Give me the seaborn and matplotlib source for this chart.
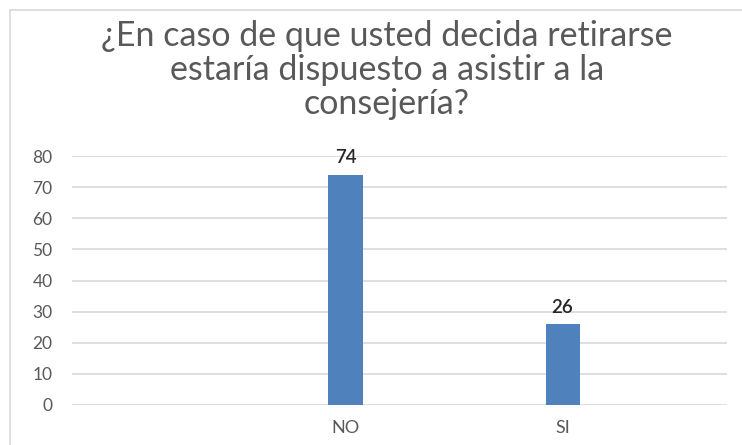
import matplotlib
matplotlib.use("Agg")
import matplotlib.pyplot as plt
from matplotlib.lines import Line2D
import seaborn as sns
import pandas as pd

title = "¿En caso de que usted decida retirarse\nestaría dispuesto a asistir a la\nconsejería?"
categories = ["NO", "SI"]
values = [74, 26]
y_ticks = [0, 10, 20, 30, 40, 50, 60, 70, 80]

sns.set_theme(style="white")
plt.rcParams["font.family"] = ["Lato", "DejaVu Sans"]

df = pd.DataFrame({"respuesta": categories, "total": values})

fig = plt.figure(figsize=(7.42, 4.45), dpi=100)
ax = fig.add_axes([0.097, 0.0899, 0.883, 0.5595])

sns.barplot(data=df, x="respuesta", y="total", color="#4F81BD",
            saturation=1, width=0.157, ax=ax, edgecolor="none")

ax.set_xlim(-1.26, 1.758)
ax.set_ylim(0, 80)
ax.set_yticks(y_ticks)
ax.set_xlabel("")
ax.set_ylabel("")
ax.yaxis.grid(True, color="#D9D9D9", linewidth=1.2)
ax.set_axisbelow(True)
for s in ax.spines.values():
    s.set_visible(False)
ax.tick_params(axis="y", length=0, pad=14, labelsize=12.5, labelcolor="#595959")
ax.tick_params(axis="x", length=0, pad=11, labelsize=13, labelcolor="#595959")

for c in ax.containers:
    ax.bar_label(c, labels=[str(v) for v in values], padding=6,
                 fontsize=13.5, color="#262626", fontweight="semibold")

fig.text(387 / 742, 1 - 70 / 445, title, ha="center", va="center",
         fontsize=24.5, color="#595959", linespacing=1.08)

# chart frame (top and left edges)
fig.add_artist(Line2D([10 / 742, 1], [1 - 10 / 445] * 2, color="#D9D9D9", lw=1.2,
                      transform=fig.transFigure))
fig.add_artist(Line2D([10 / 742] * 2, [0, 1 - 10 / 445], color="#D9D9D9", lw=1.2,
                      transform=fig.transFigure))

fig.savefig("out.png", dpi=100)
